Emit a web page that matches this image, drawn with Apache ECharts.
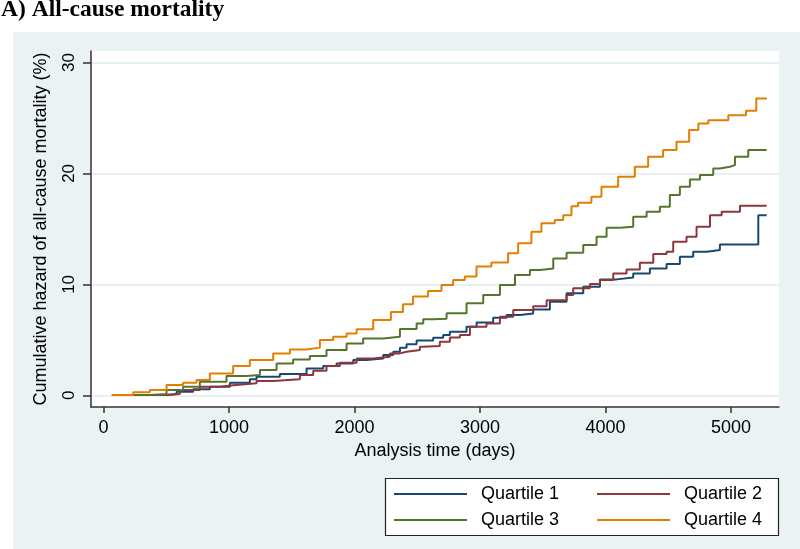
<!DOCTYPE html>
<html>
<head>
<meta charset="utf-8">
<script src="https://cdn.jsdelivr.net/npm/echarts@6/dist/echarts.min.js"></script>
<style>html,body{margin:0;padding:0;background:#fff}#c{width:800px;height:549px}</style>
</head>
<body>
<div id="c"></div>
<script>
const xTicks = [0, 1000, 2000, 3000, 4000, 5000];
const yTicks = [0, 10, 20, 30];
const seriesNames = ['Quartile 1', 'Quartile 2', 'Quartile 3', 'Quartile 4'];

const q1X = [117,502,582,714,847,1007,1166,1219,1405,1618,1751,1857,1990,2096,2229,2309,2362,2415,2495,2627,2707,2760,2893,2973,3105,3212,3318,3424,3557,3690,3823,3956,4089,4221,4354,4487,4593,4699,4806,4912,5218,5285];
const q1Y = [0.03,0.12,0.33,0.54,0.78,1.14,1.44,1.68,1.92,2.43,2.64,2.88,3.18,3.33,3.63,3.93,4.3,4.6,4.95,5.2,5.43,5.73,6.18,6.57,6.99,7.23,7.38,7.74,8.43,9.19,9.79,10.45,10.63,10.99,11.44,11.83,12.49,12.94,13.09,13.6,16.24,16.24];

const q2X = [170,502,608,767,927,1033,1219,1352,1471,1565,1671,1777,1884,2017,2149,2282,2362,2415,2521,2548,2680,2760,2840,2920,3052,3159,3265,3424,3531,3690,3743,3876,3956,4062,4168,4274,4381,4487,4540,4646,4726,4833,4926,5072,5285];
const q2Y = [0.03,0.12,0.48,0.78,0.9,1.08,1.29,1.38,1.44,1.83,2.22,2.64,2.94,3.33,3.48,3.78,3.93,4.08,4.38,4.44,4.83,5.22,5.43,6.18,6.48,7.08,7.68,8.04,8.58,9.04,9.64,10.03,10.39,10.99,11.35,11.95,12.73,12.94,13.84,14.29,15.19,16.24,16.54,17.08,17.08];

const q3X = [155,369,502,634,767,980,1140,1246,1379,1511,1644,1777,1937,2069,2229,2362,2495,2548,2627,2734,2893,3026,3159,3279,3398,3478,3584,3690,3823,3929,4009,4115,4221,4328,4434,4513,4593,4673,4753,4859,4912,4992,5032,5138,5285];
const q3Y = [0.03,0.12,0.48,0.78,1.23,1.74,1.83,2.28,2.88,3.24,3.54,4.08,4.68,5.13,5.28,5.99,6.48,6.85,6.9,7.39,8.29,9.04,9.94,10.84,11.29,11.44,12.34,12.85,13.54,14.29,15.1,15.2,16.09,16.54,16.99,18.05,18.8,19.46,19.85,20.45,20.6,20.75,21.5,22.1,22.1];

const q4X = [64,236,369,502,634,741,847,1033,1166,1352,1485,1618,1724,1830,1937,2017,2149,2290,2386,2466,2586,2693,2786,2879,2972,3091,3224,3304,3410,3490,3596,3663,3729,3782,3888,3968,4101,4234,4340,4459,4566,4667,4740,4820,4979,5120,5202,5287];
const q4Y = [0.03,0.27,0.48,0.93,1.14,1.38,1.98,2.64,3.18,3.78,4.14,4.3,4.98,5.28,5.58,5.95,6.78,7.5,8.2,8.9,9.4,9.95,10.4,10.7,11.6,11.98,12.8,13.7,14.75,15.5,15.8,16.24,17.05,17.35,17.9,18.8,19.7,20.6,21.5,22.1,22.85,23.9,24.5,24.8,25.25,25.64,26.76,26.76];

const colors = ['#1a476f', '#90353b', '#55752f', '#e37e00'];
const allX = [q1X, q2X, q3X, q4X];
const allY = [q1Y, q2Y, q3Y, q4Y];
const zip = (xs, ys) => xs.map((x, i) => [x, ys[i]]);

const font = 'Liberation Sans, Arial, sans-serif';
const legendText = { fontFamily: font, fontSize: 18, color: '#000', lineHeight: 20, padding: [0, 0, 0, 9] };
const chart = echarts.init(document.getElementById('c'));
chart.setOption({
  animation: false,
  backgroundColor: '#ffffff',
  graphic: [
    { type: 'rect', z: -10, shape: { x: 13, y: 32, width: 787, height: 517 }, style: { fill: '#eaf2f3' }, silent: true },
    { type: 'text', x: 1, y: 10, style: { text: 'A) All-cause mortality', font: 'bold 23.5px "Liberation Serif", "Times New Roman", serif', fill: '#000', verticalAlign: 'middle', align: 'left' } },
    { type: 'rect', z: 1, shape: { x: 385.5, y: 478.5, width: 393, height: 57 }, style: { fill: '#ffffff', stroke: '#222', lineWidth: 1.2 }, silent: true }
  ],
  grid: { left: 91, top: 51, right: 21, bottom: 142, show: true, backgroundColor: '#ffffff', borderWidth: 0 },
  legend: [
    { data: [seriesNames[0], seriesNames[2]], orient: 'vertical', left: 394, top: 484, padding: 0, icon: 'rect', itemWidth: 73, itemHeight: 2, itemGap: 6, z: 5, textStyle: legendText },
    { data: [seriesNames[1], seriesNames[3]], orient: 'vertical', left: 597, top: 484, padding: 0, icon: 'rect', itemWidth: 73, itemHeight: 2, itemGap: 6, z: 5, textStyle: legendText }
  ],
  xAxis: {
    type: 'value', min: -100, max: 5383,
    name: 'Analysis time (days)', nameLocation: 'middle', nameGap: 30,
    nameTextStyle: { fontFamily: font, fontSize: 18, color: '#000' },
    axisLine: { show: true, onZero: false, lineStyle: { color: '#333', width: 1.5 } },
    axisTick: { show: true, customValues: xTicks, length: 6, lineStyle: { color: '#333', width: 1.5 } },
    axisLabel: { customValues: xTicks, formatter: v => String(v), fontFamily: font, fontSize: 18, color: '#000', margin: 12 },
    splitLine: { show: false }
  },
  yAxis: {
    type: 'value', min: -1.05, max: 31.03,
    name: 'Cumulative hazard of all-cause mortality (%)', nameLocation: 'middle', nameGap: 41, nameRotate: 90,
    nameTextStyle: { fontFamily: font, fontSize: 18, color: '#000' },
    axisLine: { show: true, onZero: false, lineStyle: { color: '#333', width: 1.5 } },
    axisTick: { show: true, customValues: yTicks, length: 8, lineStyle: { color: '#333', width: 1.5 } },
    axisLabel: { customValues: yTicks, formatter: v => String(v), rotate: 90, fontFamily: font, fontSize: 17, color: '#000', margin: 13 },
    splitLine: { show: true, lineStyle: { color: '#e0eaed', width: 1.5 } }
  },
  series: seriesNames.map((n, i) => ({
    name: n, type: 'line', step: 'end', symbol: 'none',
    data: zip(allX[i], allY[i]),
    lineStyle: { color: colors[i], width: 2 },
    itemStyle: { color: colors[i] }
  }))
});
</script>
</body>
</html>
